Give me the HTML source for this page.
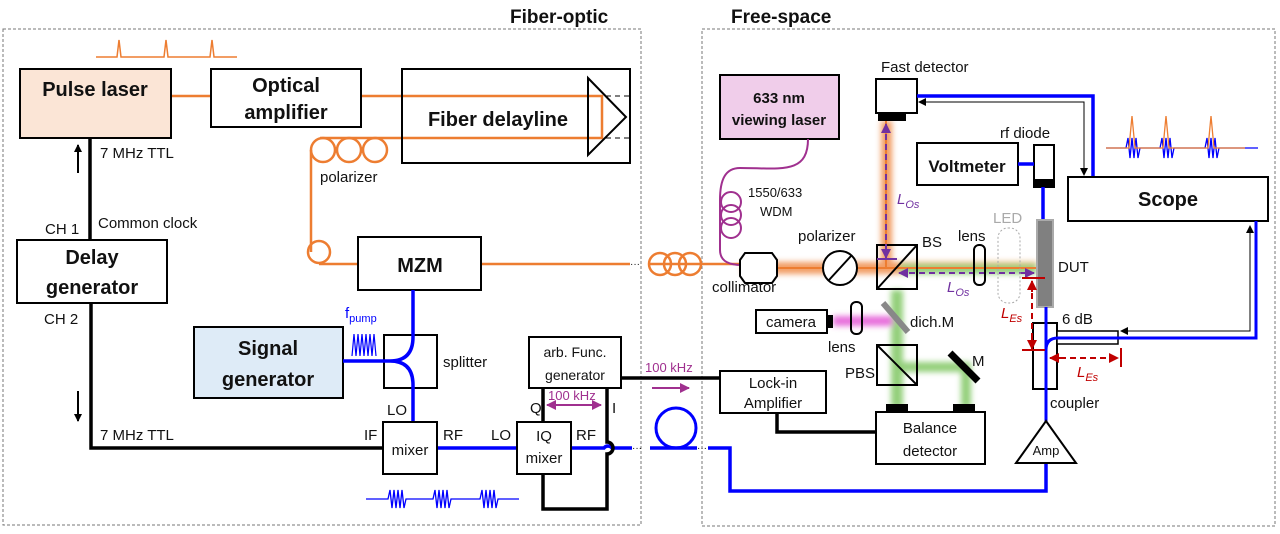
<!DOCTYPE html>
<html><head><meta charset="utf-8"><style>
html,body{margin:0;padding:0;background:#fff}
svg{display:block}
text{font-family:"Liberation Sans",sans-serif;fill:#111}
.b{font-weight:bold}
</style></head><body>
<svg width="1280" height="534" viewBox="0 0 1280 534" xmlns="http://www.w3.org/2000/svg">
<defs>
<marker id="ab" markerWidth="8" markerHeight="8" refX="7" refY="4" orient="auto" markerUnits="userSpaceOnUse"><path d="M0,0 L8,4 L0,8z" fill="#000"/></marker>
<marker id="ap" markerWidth="10" markerHeight="10" refX="9" refY="5" orient="auto-start-reverse" markerUnits="userSpaceOnUse"><path d="M0,0 L10,5 L0,10z" fill="#7030a0"/></marker>
<marker id="am" markerWidth="10" markerHeight="10" refX="9" refY="5" orient="auto-start-reverse" markerUnits="userSpaceOnUse"><path d="M0,0 L10,5 L0,10z" fill="#a0308f"/></marker>
<marker id="ar" markerWidth="10" markerHeight="10" refX="9" refY="5" orient="auto" markerUnits="userSpaceOnUse"><path d="M0,0 L10,5 L0,10z" fill="#c00000"/></marker>
<filter id="bl"><feGaussianBlur stdDeviation="3"/></filter>
</defs>
<rect x="3" y="29" width="638" height="496" fill="none" stroke="#777" stroke-dasharray="3,2"/>
<rect x="702" y="29" width="573" height="497" fill="none" stroke="#777" stroke-dasharray="3,2"/>
<text x="510" y="23" class="b" font-size="19">Fiber-optic</text>
<text x="731" y="23" class="b" font-size="19">Free-space</text>

<path d="M96,57 H117 L119,40 L121,57 H164 L166,40 L168,57 H210 L212,40 L214,57 H237" fill="none" stroke="#ed7d31" stroke-width="1.5"/>

<g fill="none" stroke="#ed7d31" stroke-width="2.5">
<path d="M171,96 H211 M361,96 H602 V138 H320"/>
<circle cx="323" cy="150" r="12"/><circle cx="349" cy="150" r="12"/><circle cx="375" cy="150" r="12"/>
<path d="M311,150 V252"/>
<circle cx="319" cy="252" r="11"/>
<path d="M319,264 H358 M481,264 H630"/>
<circle cx="660" cy="264" r="11"/><circle cx="675" cy="264" r="11"/><circle cx="690" cy="264" r="11"/>
<path d="M648,264 H740"/>
</g>
<text x="630" y="267" font-size="10">···</text>

<rect x="20" y="69" width="151" height="69" fill="#fbe5d6" stroke="#000" stroke-width="2"/>
<text x="95" y="96" class="b" font-size="20" text-anchor="middle">Pulse laser</text>
<rect x="211" y="69" width="150" height="58" fill="#fff" stroke="#000" stroke-width="2"/>
<text x="286" y="92" class="b" font-size="20" text-anchor="middle">Optical</text>
<text x="286" y="119" class="b" font-size="20" text-anchor="middle">amplifier</text>
<rect x="402" y="69" width="228" height="94" fill="none" stroke="#000" stroke-width="2"/>
<text x="498" y="126" class="b" font-size="20" text-anchor="middle">Fiber delayline</text>
<path d="M588,78 L626,117 L588,155z" fill="none" stroke="#000" stroke-width="2"/>
<path d="M606,96 H630 M606,138 H630" stroke="#000" stroke-dasharray="5,4"/>

<text x="320" y="182" font-size="15">polarizer</text>

<path d="M90,138 V240" stroke="#000" stroke-width="3.5"/>
<path d="M78,173 V145" stroke="#000" stroke-width="2" marker-end="url(#ab)"/>
<text x="100" y="158" font-size="15">7 MHz TTL</text>
<text x="98" y="228" font-size="15">Common clock</text>
<text x="45" y="234" font-size="15">CH 1</text>
<rect x="17" y="240" width="150" height="63" fill="#fff" stroke="#000" stroke-width="2"/>
<text x="92" y="264" class="b" font-size="20" text-anchor="middle">Delay</text>
<text x="92" y="294" class="b" font-size="20" text-anchor="middle">generator</text>
<text x="44" y="324" font-size="15">CH 2</text>
<path d="M91,303 V448 H383" fill="none" stroke="#000" stroke-width="3.5"/>
<path d="M78,391 V421" stroke="#000" stroke-width="2" marker-end="url(#ab)"/>
<text x="100" y="440" font-size="15">7 MHz TTL</text>

<rect x="358" y="237" width="123" height="53" fill="#fff" stroke="#000" stroke-width="2"/>
<text x="420" y="272" class="b" font-size="20" text-anchor="middle">MZM</text>

<rect x="194" y="327" width="149" height="71" fill="#deebf7" stroke="#000" stroke-width="2"/>
<text x="268" y="355" class="b" font-size="20" text-anchor="middle">Signal</text>
<text x="268" y="386" class="b" font-size="20" text-anchor="middle">generator</text>
<rect x="384" y="335" width="53" height="53" fill="#fff" stroke="#000" stroke-width="2"/>
<g fill="none" stroke="#0000ff" stroke-width="3.5">
<path d="M413,290 V337 Q413,361 390,361 H343 M390,361 Q413,361 413,385 V422"/>
<path d="M437,448 H517 M571,448 H604 A5,5 0 0 1 612,448 H632 M650,448 H697"/>
<circle cx="676" cy="428" r="20" stroke-width="3"/>
<path d="M708,448 H730 V491 H1046 V463"/>
</g>
<text x="697" y="451" font-size="10">···</text>
<text x="632" y="451" font-size="10">···</text>
<path d="M352,356 L354,334 L356,356 L358,334 L360,356 L362,334 L364,356 L366,334 L368,356 L370,334 L372,356 L374,334 L376,356" fill="none" stroke="#0000ff" stroke-width="1.2"/>
<text x="345" y="318" font-size="15" style="fill:#0000ff">f<tspan font-size="11" dy="4" style="fill:#0000ff">pump</tspan></text>
<text x="443" y="367" font-size="15">splitter</text>

<text x="387" y="415" font-size="15">LO</text>
<rect x="383" y="422" width="54" height="52" fill="#fff" stroke="#000" stroke-width="2"/>
<text x="410" y="455" font-size="15" text-anchor="middle">mixer</text>
<text x="364" y="440" font-size="15">IF</text>
<text x="443" y="440" font-size="15">RF</text>
<text x="491" y="440" font-size="15">LO</text>
<rect x="517" y="422" width="54" height="52" fill="#fff" stroke="#000" stroke-width="2"/>
<text x="544" y="441" font-size="15" text-anchor="middle">IQ</text>
<text x="544" y="463" font-size="15" text-anchor="middle">mixer</text>
<text x="576" y="440" font-size="15">RF</text>

<rect x="529" y="337" width="92" height="51" fill="#fff" stroke="#000" stroke-width="2"/>
<text x="575" y="357" font-size="14" text-anchor="middle">arb. Func.</text>
<text x="575" y="380" font-size="14" text-anchor="middle">generator</text>
<g fill="none" stroke="#000" stroke-width="3.5">
<path d="M543,388 V422"/>
<path d="M607,388 V442 A6,6 0 0 1 607,454 V509 H543 V474"/>
<path d="M621,378 H720"/>
<path d="M777,413 V432 H876"/>
</g>
<text x="530" y="413" font-size="15">Q</text>
<text x="612" y="413" font-size="15">I</text>
<path d="M547,405 H601" stroke="#a0308f" stroke-width="2" marker-start="url(#am)" marker-end="url(#am)"/>
<text x="548" y="400" font-size="13" style="fill:#a0308f">100 kHz</text>
<text x="645" y="372" font-size="13" style="fill:#a0308f">100 kHz</text>
<path d="M652,388 H689" stroke="#a0308f" stroke-width="2" marker-end="url(#am)"/>

<path d="M366,499 H388 L390,490 L392,508 L394,490 L396,508 L398,490 L400,508 L402,490 L404,508 L406,499 H433 L435,490 L437,508 L439,490 L441,508 L443,490 L445,508 L447,490 L449,508 L451,499 H480 L482,490 L484,508 L486,490 L488,508 L490,490 L492,508 L494,490 L496,508 L498,499 H519" fill="none" stroke="#0000ff" stroke-width="1.3"/>

<rect x="720" y="75" width="119" height="64" fill="#f0cdea" stroke="#000" stroke-width="2"/>
<text x="779" y="103" class="b" font-size="15" text-anchor="middle">633 nm</text>
<text x="779" y="125" class="b" font-size="15" text-anchor="middle">viewing laser</text>
<g fill="none" stroke="#a0308f" stroke-width="2">
<path d="M808,139 C808,175 780,168 740,168 C725,168 720,180 720,200 V250 C720,262 730,265 742,265"/>
<circle cx="731" cy="202" r="10"/><circle cx="731" cy="215" r="10"/><circle cx="731" cy="228" r="10"/>
</g>
<text x="748" y="197" font-size="13">1550/633</text>
<text x="760" y="216" font-size="13">WDM</text>

<g filter="url(#bl)" opacity="0.75">
<rect x="742" y="262" width="295" height="12" fill="#ed7d31"/>
<rect x="881" y="121" width="11" height="145" fill="#ed7d31"/>
<rect x="900" y="264" width="137" height="10" fill="#70c050"/>
<rect x="891" y="290" width="12" height="118" fill="#70c050"/>
<rect x="903" y="362" width="68" height="10" fill="#70c050"/>
<rect x="961" y="368" width="10" height="40" fill="#70c050"/>
<rect x="833" y="316" width="60" height="10" fill="#e040d0"/>
</g>
<path d="M742,268 H1037" stroke="#ed7d31" stroke-width="2"/>
<path d="M886,121 V268" stroke="#ed7d31" stroke-width="2"/>

<path d="M745,253 H772 L777,260 V276 L772,283 H745 L740,276 V260z" fill="#fff" stroke="#000" stroke-width="2"/>
<text x="712" y="292" font-size="15">collimator</text>
<circle cx="840" cy="268" r="17" fill="#fff" stroke="#000" stroke-width="2"/>
<path d="M829,280 L851,256" stroke="#000" stroke-width="2"/>
<text x="798" y="241" font-size="15">polarizer</text>

<text x="881" y="72" font-size="15">Fast detector</text>
<rect x="876" y="79" width="41" height="34" fill="#fff" stroke="#000" stroke-width="2"/>
<rect x="878" y="113" width="28" height="8" fill="#000"/>
<path d="M917,96 H1093 V177" fill="none" stroke="#0000ff" stroke-width="3.5"/>
<path d="M1084,170 V102 H919" fill="none" stroke="#000" stroke-width="1" marker-end="url(#ab)"/>
<path d="M1084,102 V175" stroke="#000" stroke-width="1" marker-end="url(#ab)"/>

<rect x="877" y="245" width="40" height="44" fill="none" stroke="#000" stroke-width="2"/>
<path d="M877,289 L917,245" stroke="#000" stroke-width="2"/>
<text x="922" y="247" font-size="15">BS</text>
<path d="M886,124 V258" stroke="#7030a0" stroke-width="2" stroke-dasharray="6,4" marker-start="url(#ap)" marker-end="url(#ap)"/>
<path d="M877,259 H897" stroke="#7030a0" stroke-width="2"/>
<text x="897" y="204" font-size="15" font-style="italic" style="fill:#7030a0">L<tspan font-size="11" dy="4" style="fill:#7030a0">Os</tspan></text>
<path d="M899,273 H1034" stroke="#7030a0" stroke-width="2" stroke-dasharray="6,4" marker-start="url(#ap)" marker-end="url(#ap)"/>
<text x="947" y="292" font-size="15" font-style="italic" style="fill:#7030a0">L<tspan font-size="11" dy="4" style="fill:#7030a0">Os</tspan></text>

<rect x="974" y="245" width="11" height="40" rx="5" fill="none" stroke="#000" stroke-width="2"/>
<text x="958" y="241" font-size="15">lens</text>
<rect x="998" y="228" width="22" height="75" rx="10" fill="none" stroke="#aaa" stroke-dasharray="2,2"/>
<text x="993" y="223" font-size="15" style="fill:#aaa">LED</text>

<rect x="917" y="143" width="101" height="42" fill="#fff" stroke="#000" stroke-width="2"/>
<text x="967" y="172" class="b" font-size="17" text-anchor="middle">Voltmeter</text>
<text x="1000" y="138" font-size="15">rf diode</text>
<rect x="1034" y="145" width="20" height="42" fill="#fff" stroke="#000" stroke-width="2"/>
<rect x="1034" y="179" width="20" height="8" fill="#000"/>
<path d="M1018,164 H1034 M1043,187 V220" stroke="#0000ff" stroke-width="3.5"/>

<rect x="1068" y="177" width="200" height="44" fill="#fff" stroke="#000" stroke-width="2"/>
<text x="1168" y="206" class="b" font-size="20" text-anchor="middle">Scope</text>
<g fill="none" stroke-width="1.3">
<path d="M1106,148 H1126 L1128,138 L1130,158 L1132,138 L1134,158 L1136,138 L1138,158 L1140,148 H1160 L1162,138 L1164,158 L1166,138 L1168,158 L1170,138 L1172,158 L1174,148 H1205 L1207,138 L1209,158 L1211,138 L1213,158 L1215,138 L1217,158 L1219,148 H1258" stroke="#0000ff"/>
<path d="M1106,148 H1129 L1132,116 L1135,148 H1163 L1166,116 L1169,148 H1208 L1211,116 L1214,148 H1245" stroke="#ed7d31"/>
</g>

<rect x="1037" y="220" width="16" height="87" fill="#808080" stroke="#aaa" stroke-width="2"/>
<text x="1058" y="272" font-size="15">DUT</text>

<rect x="756" y="310" width="71" height="23" fill="#fff" stroke="#000" stroke-width="2"/>
<text x="791" y="327" font-size="15" text-anchor="middle">camera</text>
<rect x="827" y="315" width="6" height="13" fill="#000"/>
<rect x="851" y="302" width="11" height="32" rx="5" fill="none" stroke="#000" stroke-width="2"/>
<text x="828" y="352" font-size="15">lens</text>
<path d="M883,303 L908,332" stroke="#888" stroke-width="6"/>
<text x="910" y="327" font-size="15">dich.M</text>

<rect x="877" y="345" width="40" height="40" fill="none" stroke="#000" stroke-width="2"/>
<path d="M877,345 L917,385" stroke="#000" stroke-width="2"/>
<text x="845" y="378" font-size="15">PBS</text>
<path d="M950,353 L978,381" stroke="#000" stroke-width="7"/>
<text x="972" y="366" font-size="15">M</text>

<rect x="886" y="404" width="22" height="8" fill="#000"/>
<rect x="953" y="404" width="22" height="8" fill="#000"/>
<rect x="876" y="412" width="109" height="52" fill="#fff" stroke="#000" stroke-width="2"/>
<text x="930" y="433" font-size="15" text-anchor="middle">Balance</text>
<text x="930" y="456" font-size="15" text-anchor="middle">detector</text>
<rect x="720" y="371" width="106" height="42" fill="#fff" stroke="#000" stroke-width="2"/>
<text x="773" y="388" font-size="15" text-anchor="middle">Lock-in</text>
<text x="773" y="408" font-size="15" text-anchor="middle">Amplifier</text>

<rect x="1033" y="323" width="24" height="66" fill="#fff" stroke="#000" stroke-width="2"/>
<rect x="1057" y="331" width="61" height="13" fill="#fff" stroke="#000" stroke-width="1.5"/>
<text x="1062" y="324" font-size="15">6 dB</text>
<text x="1050" y="408" font-size="15">coupler</text>
<path d="M1046,307 V423 M1046,350 Q1046,338 1058,338 H1256 V221" fill="none" stroke="#0000ff" stroke-width="3"/>
<path d="M1250,229 V331 H1121" fill="none" stroke="#000" stroke-width="1" marker-end="url(#ab)"/>
<path d="M1250,331 V226" stroke="#000" stroke-width="1" marker-end="url(#ab)"/>
<path d="M1016,463 L1046,421 L1076,463z" fill="#fff" stroke="#000" stroke-width="2"/>
<text x="1046" y="455" font-size="13" text-anchor="middle">Amp</text>

<path d="M1032,283 V345" stroke="#c00000" stroke-width="2" stroke-dasharray="6,4"/>
<path d="M1032,292 V281" stroke="#c00000" stroke-width="2" marker-end="url(#ar)"/>
<path d="M1032,338 V349" stroke="#c00000" stroke-width="2" marker-end="url(#ar)"/>
<path d="M1022,278 H1045 M1022,350 H1045 M1121,348 V367" stroke="#c00000" stroke-width="2"/>
<path d="M1050,358 H1118" stroke="#c00000" stroke-width="2" stroke-dasharray="6,4" marker-end="url(#ar)"/>
<path d="M1060,358 H1050" stroke="#c00000" stroke-width="2" marker-end="url(#ar)"/>
<text x="1001" y="318" font-size="15" font-style="italic" style="fill:#c00000">L<tspan font-size="11" dy="4" style="fill:#c00000">Es</tspan></text>
<text x="1077" y="377" font-size="15" font-style="italic" style="fill:#c00000">L<tspan font-size="11" dy="4" style="fill:#c00000">Es</tspan></text>
</svg>
</body></html>
